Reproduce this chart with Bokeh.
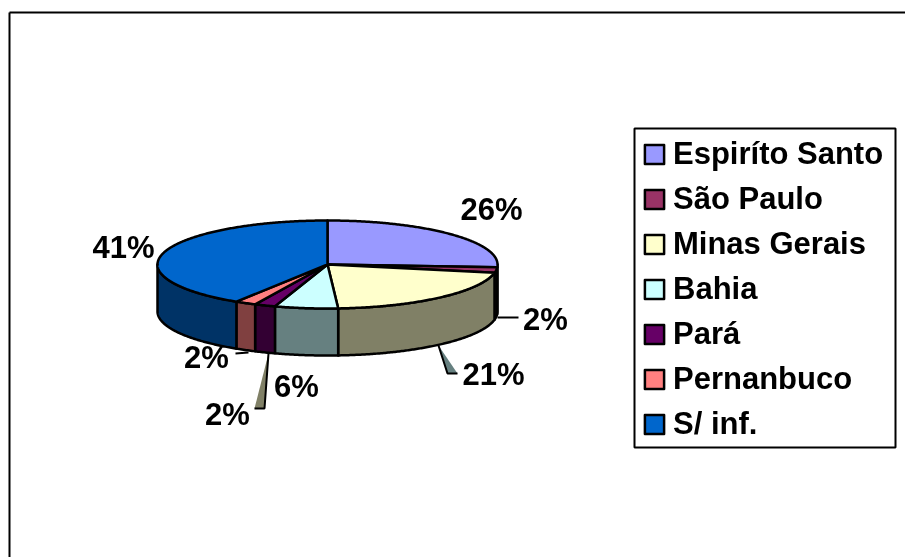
import numpy as np
from bokeh.core.properties import value
from bokeh.embed import file_html
from bokeh.models import Legend, LegendItem, Range1d
from bokeh.plotting import figure
from bokeh.resources import INLINE

categories = ["Espiríto Santo", "São Paulo", "Minas Gerais", "Bahia", "Pará", "Pernanbuco", "S/ inf."]
shares = [26, 2, 21, 6, 2, 2, 41]
top_colors = ["#9999FF", "#993366", "#FFFFCC", "#CCFFFF", "#660066", "#FF8080", "#0066CC"]
side_colors = ["#4D4D80", "#4D1A33", "#808066", "#668080", "#330033", "#804040", "#003366"]
label_x = [491, 545, 493, 296, 227, 206, 123]
label_y = [209, 319, 374, 386, 414, 357, 247]

W, H = 905, 557
CX, CY, RX, RY, DEPTH = 327, 264, 170, 44, 47

p = figure(width=W, height=H, output_backend="svg", toolbar_location=None,
           x_range=Range1d(0, W), y_range=Range1d(H, 0),
           min_border=0, outline_line_color=None,
           styles={"position": "fixed", "left": "0px", "top": "0px"})
p.xaxis.visible = False
p.yaxis.visible = False
p.xgrid.visible = False
p.ygrid.visible = False

# chart frame
p.line([9, 9], [H, 12], line_color="black", line_width=2)
p.line([9, W], [12, 12], line_color="black", line_width=2)


def arc(a, b, dy=0.0):
    t = np.radians(np.linspace(a, b, max(int(abs(b - a)) * 2, 3)))
    return CX + RX * np.sin(t), CY + dy - RY * np.cos(t)


edges = np.concatenate([[0], np.cumsum(shares)]) * 3.6

# walls, visible only on the near half
for i in range(len(shares)):
    a, b = max(edges[i], 90.0), min(edges[i + 1], 270.0)
    if b <= a:
        continue
    x1, y1 = arc(a, b)
    x2, y2 = arc(b, a, DEPTH)
    p.patch(np.r_[x1, x2], np.r_[y1, y2], fill_color=side_colors[i],
            line_color="black", line_width=2.5, line_join="round")

# top faces
tops = []
for i in range(len(shares)):
    x, y = arc(edges[i], edges[i + 1])
    tops.append(p.patch(np.r_[CX, x], np.r_[CY, y], fill_color=top_colors[i],
                        line_color="black", line_width=2.5, line_join="round"))

# leader shapes
p.line([497, 518], [317, 317], line_color="black", line_width=2)
p.line([235, 248], [353, 352], line_color="black", line_width=2)
p.patch([438, 447, 457], [345, 373, 373], fill_color="#668080", line_color=None)
p.line([438, 447, 457], [345, 373, 373], line_color="black", line_width=2)
p.patch([268, 254, 264], [353, 408, 408], fill_color="#808066", line_color=None)
p.line([268, 264, 254], [353, 408, 408], line_color="black", line_width=2)

pct = [f"{s}%" for s in shares]
p.text(label_x, label_y, text=pct, text_font=value("Liberation Sans"), text_font_style="bold",
       text_font_size="31px", text_align="center", text_baseline="middle", text_color="black")

# legend box, then the legend itself without its own border
p.quad(left=[634], right=[895], top=[128], bottom=[447], fill_color="white",
       line_color="black", line_width=2)
legend = Legend(items=[LegendItem(label=c, renderers=[r]) for c, r in zip(categories, tops)],
                location=(642, 115), orientation="vertical",
                label_text_font="Liberation Sans", label_text_font_style="bold",
                label_text_font_size="31px", label_text_color="black",
                glyph_width=24, glyph_height=24, label_standoff=7, spacing=9,
                label_height=35, padding=8, margin=0,
                border_line_color=None, background_fill_alpha=0)
p.add_layout(legend, "center")

open("out.html", "w").write(file_html(p, INLINE))
